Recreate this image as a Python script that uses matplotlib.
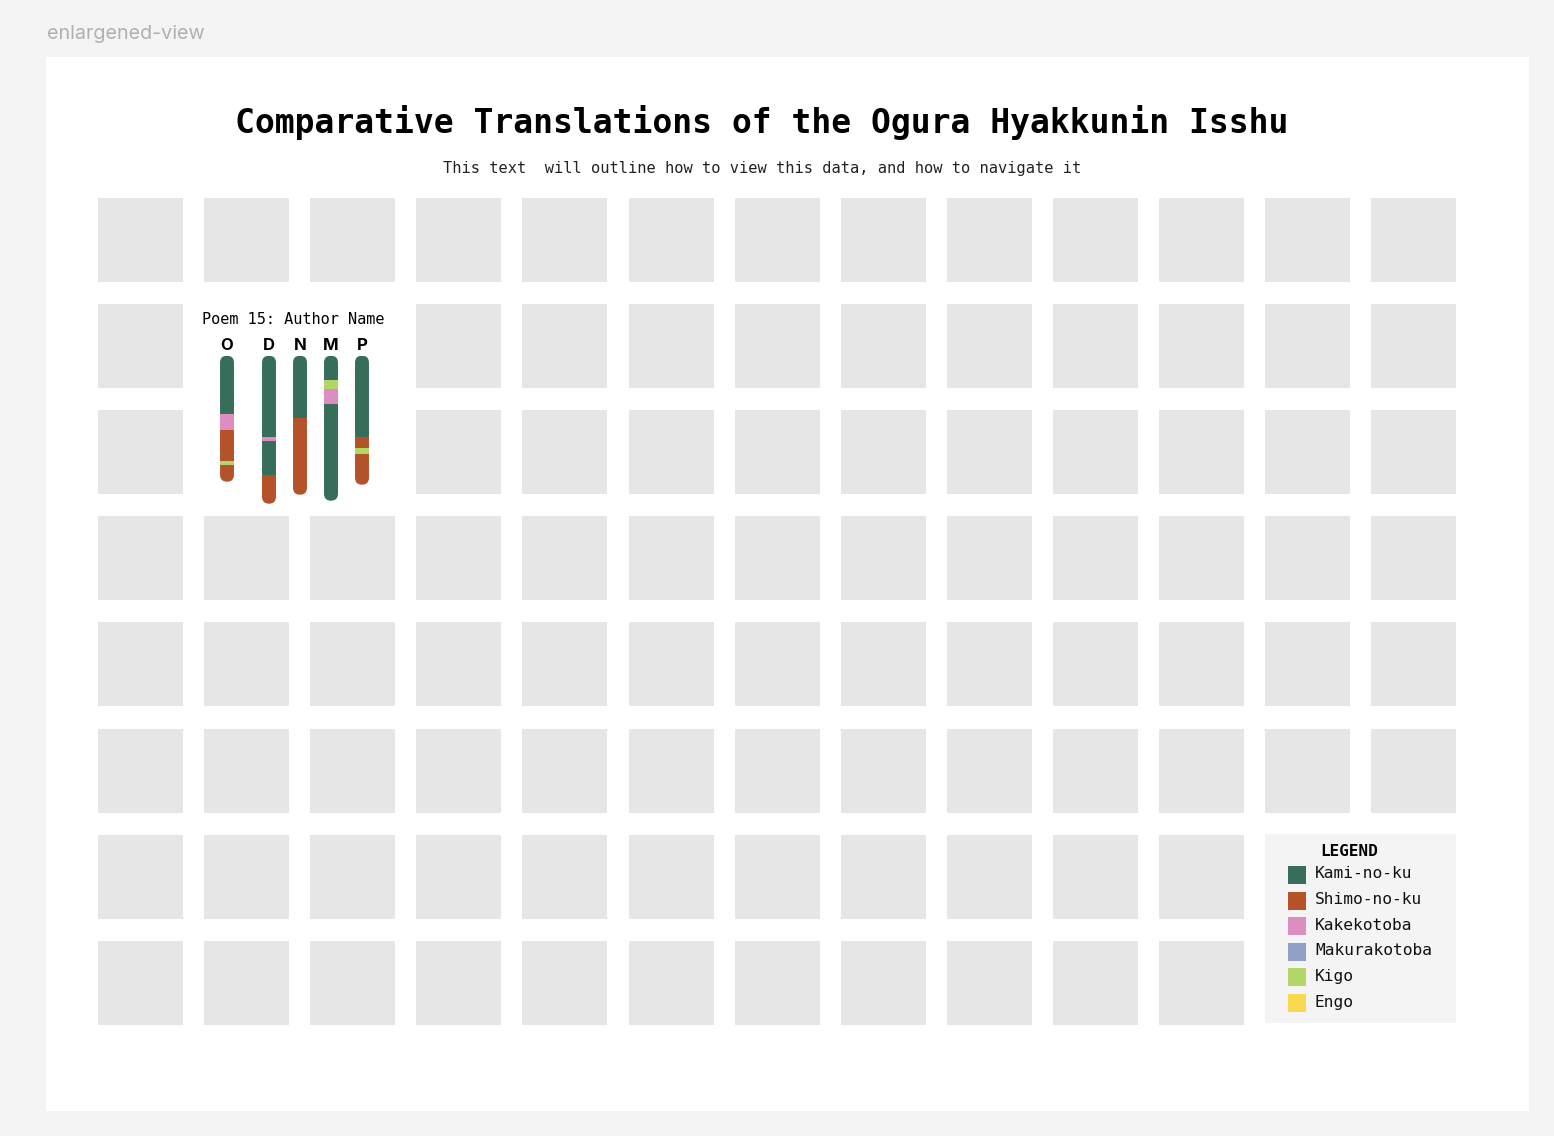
import numpy as np
import matplotlib
matplotlib.use("Agg")
import matplotlib.pyplot as plt
from matplotlib.patches import Rectangle, FancyBboxPatch

# ---- data -----------------------------------------------------------
categories = ["Kami-no-ku", "Shimo-no-ku", "Kakekotoba", "Makurakotoba", "Kigo", "Engo"]
cat_colors = ["#366e5a", "#b4522a", "#dd8dbf", "#91a0c8", "#b2d668", "#fad850"]

poem_number = 15
poem_author = "Author Name"
translations = ["O", "D", "N", "M", "P"]

# segments of each translation, top to bottom: (category index, length)
seg_cats = [
    [0, 2, 1, 4, 1],
    [0, 2, 0, 1],
    [0, 1],
    [0, 4, 2, 0],
    [0, 1, 4, 1],
]
seg_lens = [
    [58, 16, 31, 4, 17],
    [81, 4, 34, 29],
    [62, 77],
    [24, 9, 15, 97],
    [81, 11, 6, 31],
]

n_cols, n_rows = 13, 8
n_poems = 100

# ---- layout helpers (pixel coordinates) -----------------------------
W, H = 1554, 1136
def px_box(x0, y0, x1, y1):
    return [x0 / W, 1 - y1 / H, (x1 - x0) / W, (y1 - y0) / H]

fig = plt.figure(figsize=(W / 100, H / 100), dpi=100, facecolor="#f4f4f4")
ax = fig.add_axes([0, 0, 1, 1])
ax.set_xlim(0, W)
ax.set_ylim(H, 0)
ax.axis("off")

ax.text(47, 34, "enlargened-view", fontsize=14.2, color="#b0b0b0",
        family="Inter", va="center", ha="left")
ax.add_patch(Rectangle((46, 57), 1483, 1054, fc="white", ec="none"))

ax.text(762, 122, "Comparative Translations of the Ogura Hyakkunin Isshu",
        fontsize=23.8, weight="bold", family="DejaVu Sans Mono", ha="center", va="center")
ax.text(762, 169, "This text  will outline how to view this data, and how to navigate it",
        fontsize=11.1, family="DejaVu Sans Mono", color="#222222", ha="center", va="center")

# grid of poem tiles (poem 15 is enlarged over 2x2 cells, legend takes the last 4)
x0, y0, pitch, size = 98, 198, 106.1, 85
enlarged = {(1, 1), (1, 2), (2, 1), (2, 2)}
legend_cells = {(6, 11), (6, 12), (7, 11), (7, 12)}
for r in range(n_rows):
    for c in range(n_cols):
        if (r, c) in enlarged or (r, c) in legend_cells:
            continue
        ax.add_patch(Rectangle((x0 + c * pitch, y0 + r * pitch), size, size - 1,
                               fc="#e6e6e6", ec="none"))

# ---- enlarged view of one poem --------------------------------------
ax.text(293, 320, f"Poem {poem_number}: {poem_author}", fontsize=11,
        family="DejaVu Sans Mono", ha="center", va="center")

pax = fig.add_axes(px_box(196, 350, 393, 510))
pax.set_xlim(-1, 5.355)
pax.set_ylim(154.3, -5.7)
pax.axis("off")
pax.patch.set_alpha(0)

xpos = [0, 1.355, 2.355, 3.355, 4.355]
bw = 0.45
aspect = 31.0  # pixels per x unit / pixels per y unit
for i, name in enumerate(translations):
    total = sum(seg_lens[i])
    clip = FancyBboxPatch((xpos[i] - bw / 2, 0), bw, total,
                          boxstyle=f"round,pad=0,rounding_size={bw / 2}",
                          mutation_aspect=aspect, fc="none", ec="none")
    pax.add_patch(clip)
    bottom = 0
    for cat, length in zip(seg_cats[i], seg_lens[i]):
        bars = pax.bar(xpos[i], length, bottom=bottom, width=bw,
                       color=cat_colors[cat], linewidth=0)
        for b in bars:
            b.set_clip_path(clip)
        bottom += length
    pax.text(xpos[i], -10.7, name, fontsize=12, weight="bold", family="Inter",
             ha="center", va="center")

# ---- legend ----------------------------------------------------------
ax.add_patch(Rectangle((1265, 834), 191, 189, fc="#f4f4f4", ec="none"))
ax.text(1349, 851, "LEGEND", fontsize=11.5, weight="bold",
        family="DejaVu Sans Mono", ha="center", va="center")
for k, (name, col) in enumerate(zip(categories, cat_colors)):
    yc = 875 + k * 25.6
    ax.add_patch(Rectangle((1288, yc - 9), 18, 18, fc=col, ec="none"))
    ax.text(1315, yc - 1, name, fontsize=11.7, family="DejaVu Sans Mono",
            ha="left", va="center", color="#111111")

fig.savefig("out.png", dpi=100, facecolor=fig.get_facecolor())
